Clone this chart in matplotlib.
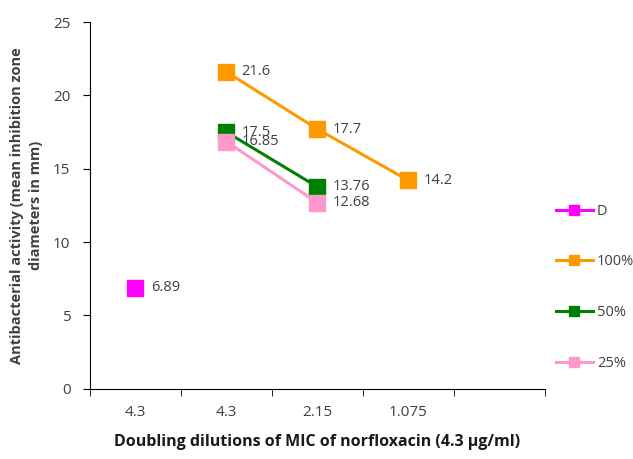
import matplotlib
matplotlib.use('Agg')
import matplotlib.pyplot as plt
import numpy as np

plt.rcParams['font.family'] = ['Open Sans', 'DejaVu Sans']

# categories on the x axis (5th slot left empty like the original)
categories = ['4.3', '4.3', '2.15', '1.075', '']

# series: (name, category index list, values, colour)
d_idx = [0]
d_vals = [6.89]
p100_idx = [1, 2, 3]
p100_vals = [21.6, 17.7, 14.2]
p50_idx = [1, 2]
p50_vals = [17.5, 13.76]
p25_idx = [1, 2]
p25_vals = [16.85, 12.68]

series = [
    ('D', d_idx, d_vals, '#FF00FF'),
    ('100%', p100_idx, p100_vals, '#FF9900'),
    ('50%', p50_idx, p50_vals, '#008000'),
    ('25%', p25_idx, p25_vals, '#FF99CC'),
]

txt = '#404040'

fig = plt.figure(figsize=(6.33, 4.59), dpi=100)
ax = fig.add_axes([0.142, 0.153, 0.719, 0.799])

handles = []
for name, idx, vals, col in series:
    xs = np.array(idx) + 0.5
    ax.plot(xs, vals, color=col, lw=2.2, marker='s', markersize=11,
            markeredgecolor=col)
    # smaller marker for the legend entry
    h, = ax.plot([], [], color=col, lw=2.2, marker='s', markersize=7, label=name)
    handles.append(h)
    for x, v in zip(xs, vals):
        ax.annotate('%g' % v, (x, v), xytext=(11, 0), textcoords='offset points',
                    va='center', ha='left', fontsize=10.5, color=txt)

ax.set_xlim(0, 5)
ax.set_ylim(0, 25)
ax.set_yticks(range(0, 26, 5))
ax.set_xticks(np.arange(5) + 0.5)
ax.set_xticklabels(categories)
ax.set_xticks(np.arange(0, 6), minor=True)
ax.tick_params(axis='x', which='major', length=0, pad=12, labelsize=11, labelcolor=txt)
ax.tick_params(axis='x', which='minor', length=5, direction='out')
ax.tick_params(axis='y', length=5, direction='out', labelsize=11, labelcolor=txt, pad=9)
for s in ['top', 'right']:
    ax.spines[s].set_visible(False)

ax.set_ylabel('Antibacterial activity (mean inhibition zone\ndiameters in mm)',
              fontsize=10.5, fontweight='bold', color=txt, labelpad=7,
              linespacing=1.5)
ax.set_xlabel('Doubling dilutions of MIC of norfloxacin (4.3 \u03bcg/ml)',
              fontsize=11.5, fontweight='bold', color='#1a1a1a', labelpad=10)

fig.legend(handles=handles, loc='upper left', bbox_to_anchor=(0.858, 0.585),
           frameon=False, fontsize=10.5, labelspacing=2.45, handlelength=2.5,
           handletextpad=0.3, labelcolor=txt)

fig.savefig('out.png', dpi=100)
